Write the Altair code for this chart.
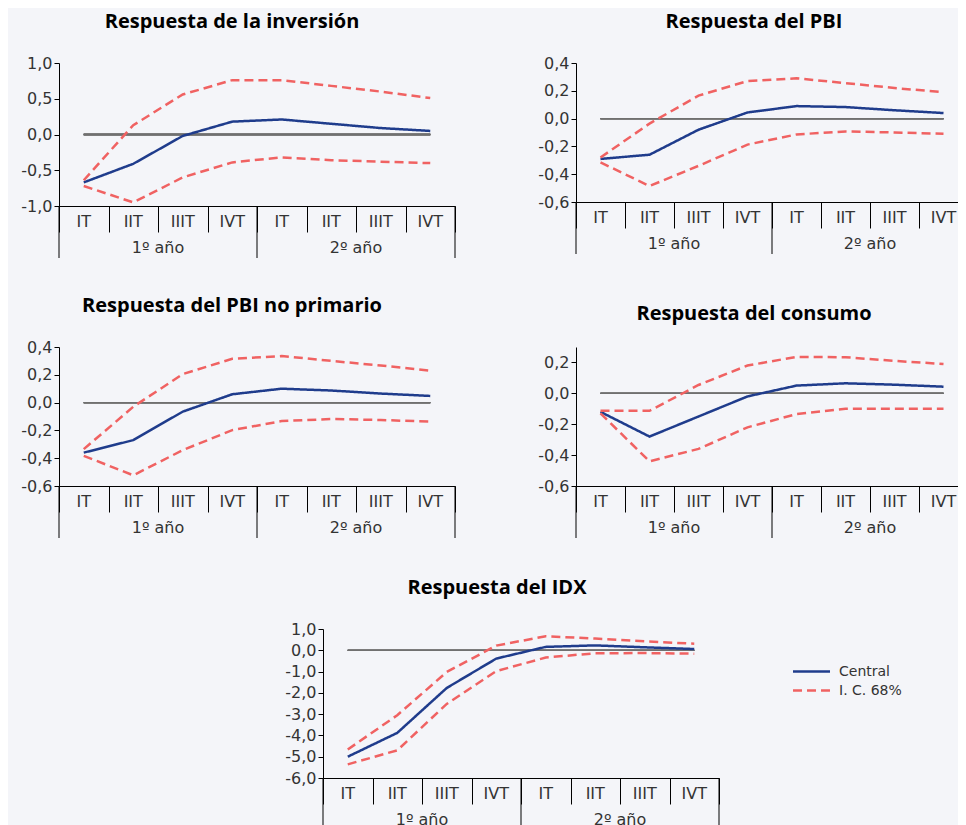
import altair as alt
import pandas as pd

# ---------------- data ----------------
trimestres = ["IT", "IIT", "IIIT", "IVT", "IT", "IIT", "IIIT", "IVT"]
anios = ["1º año", "2º año"]

inv_central = [-0.67, -0.41, -0.02, 0.18, 0.21, 0.15, 0.09, 0.05]
inv_sup = [-0.64, 0.13, 0.56, 0.76, 0.76, 0.68, 0.60, 0.51]
inv_inf = [-0.72, -0.95, -0.60, -0.39, -0.32, -0.36, -0.38, -0.40]

pbi_central = [-0.29, -0.26, -0.08, 0.044, 0.09, 0.083, 0.06, 0.04]
pbi_sup = [-0.28, -0.036, 0.165, 0.27, 0.29, 0.255, 0.22, 0.19]
pbi_inf = [-0.315, -0.485, -0.34, -0.187, -0.114, -0.092, -0.10, -0.109]

pnp_central = [-0.36, -0.27, -0.065, 0.06, 0.10, 0.087, 0.065, 0.048]
pnp_sup = [-0.335, -0.03, 0.205, 0.315, 0.335, 0.30, 0.267, 0.23]
pnp_inf = [-0.383, -0.523, -0.342, -0.198, -0.133, -0.118, -0.125, -0.137]

con_central = [-0.12, -0.28, -0.15, -0.02, 0.05, 0.065, 0.056, 0.043]
con_sup = [-0.113, -0.113, 0.054, 0.18, 0.236, 0.234, 0.21, 0.19]
con_inf = [-0.13, -0.44, -0.36, -0.22, -0.134, -0.10, -0.10, -0.10]

idx_central = [-5.0, -3.88, -1.77, -0.39, 0.16, 0.23, 0.14, 0.06]
idx_sup = [-4.66, -3.05, -1.02, 0.22, 0.66, 0.55, 0.42, 0.31]
idx_inf = [-5.36, -4.70, -2.52, -0.98, -0.34, -0.14, -0.13, -0.16]

# ---------------- style ----------------
TFONT = "Open Sans"
FONT = "DejaVu Sans"
BG = "#f4f5f9"
NAVY = "#1f3c8c"
RED = "#f06262"
TXT = "#333333"

n_q = len(trimestres)
q_df = pd.DataFrame({"idx": list(range(n_q)), "trim": trimestres})
y_df = pd.DataFrame({"idx": list(range(len(anios))), "anio": anios})

LABEL_EXPR = ("(datum.value < 0 ? '-' : '') + "
              "replace(format(abs(datum.value), '.1f'), '.', ',')")


def make_df(central, sup, inf):
    rows = []
    for i, (c, s, f) in enumerate(zip(central, sup, inf)):
        rows.append(dict(idx=i, valor=c, grupo="Central", serie="Central"))
        rows.append(dict(idx=i, valor=s, grupo="I. C. 68%", serie="Superior"))
        rows.append(dict(idx=i, valor=f, grupo="I. C. 68%", serie="Inferior"))
    return pd.DataFrame(rows)


def panel(title, central, sup, inf, ydom, yticks, w, h, xmax=8.0, tdx=-25, legend=False):
    df = make_df(central, sup, inf)
    bounds = [4 * i for i in range(len(anios) + 1) if 4 * i <= xmax]
    b_df = pd.DataFrame({"b": bounds})
    xs = alt.Scale(domain=[0, xmax], nice=False, zero=False)
    xax = alt.Axis(values=[v for v in range(n_q + 1) if v <= xmax], labels=False, tickSize=26,
                   tickColor="#000", domainColor="#000", grid=False, title=None,
                   tickWidth=1, domainWidth=1)
    yax = alt.Axis(values=yticks, grid=False, title=None, tickSize=5,
                   labelExpr=LABEL_EXPR,
                   labelFont=FONT, labelFontSize=16, labelColor=TXT, labelPadding=2,
                   tickColor="#000", domainColor="#000", labelOverlap=False)
    ys = alt.Scale(domain=ydom, nice=False, zero=False)

    def X(field):
        return alt.X(field, type="quantitative", scale=xs, axis=xax)

    if legend:
        leg = alt.Legend(title=None, orient="none", legendX=742, legendY=32,
                         symbolType="M-2,0L2,0", symbolSize=342, symbolStrokeWidth=2.5,
                         labelFont=FONT, labelFontSize=14, labelColor=TXT,
                         rowPadding=1, labelOffset=17)
    else:
        leg = None

    zero = alt.Chart(q_df).mark_rule(color="#707070", strokeWidth=1.3).encode(
        x=alt.XDatum(0.5, type="quantitative", scale=xs, axis=xax),
        x2=alt.X2Datum(n_q - 0.5),
        y=alt.YDatum(0, type="quantitative", scale=ys, axis=yax),
    )
    lines = alt.Chart(df).mark_line(strokeWidth=2.5).transform_calculate(
        xc="datum.idx + 0.5"
    ).encode(
        x=X("xc"),
        y=alt.Y("valor:Q", scale=ys, axis=yax),
        color=alt.Color("grupo:N", scale=alt.Scale(domain=["Central", "I. C. 68%"],
                                                    range=[NAVY, RED]), legend=leg),
        strokeDash=alt.StrokeDash("grupo:N", scale=alt.Scale(domain=["Central", "I. C. 68%"],
                                                             range=[[1, 0], [9, 5]]), legend=leg),
        detail="serie:N",
    )
    qtext = alt.Chart(q_df).mark_text(font=FONT, fontSize=16, color=TXT, baseline="middle").transform_calculate(
        xc="datum.idx + 0.5"
    ).encode(x=X("xc"), y=alt.value(h + 16), text="trim:N")
    ytext = alt.Chart(y_df).mark_text(font=FONT, fontSize=16, color=TXT, baseline="middle").transform_calculate(
        xc="datum.idx * 4 + 2"
    ).encode(x=X("xc"), y=alt.value(h + 42), text="anio:N")
    yrules = alt.Chart(b_df).mark_rule(color="#000", strokeWidth=1).encode(
        x=X("b"), y=alt.value(h), y2=alt.value(h + 52)
    )
    return alt.layer(zero, lines, qtext, ytext, yrules).properties(
        width=w, height=h,
        title=alt.TitleParams(title, font=TFONT, fontSize=20, fontWeight="bold",
                              color="#000", anchor="middle", frame="group",
                              dx=tdx, offset=23),
    )


RW = 382
RXMAX = RW / 49.0
p1 = panel("Respuesta de la inversión", inv_central, inv_sup, inv_inf,
           [-1.0, 1.0], [-1.0, -0.5, 0.0, 0.5, 1.0], 396, 143)
p2 = panel("Respuesta del PBI", pbi_central, pbi_sup, pbi_inf,
           [-0.6, 0.4], [-0.6, -0.4, -0.2, 0.0, 0.2, 0.4], RW, 139, xmax=RXMAX, tdx=-13)
p3 = panel("Respuesta del PBI no primario", pnp_central, pnp_sup, pnp_inf,
           [-0.6, 0.4], [-0.6, -0.4, -0.2, 0.0, 0.2, 0.4], 396, 139)
p4 = panel("Respuesta del consumo", con_central, con_sup, con_inf,
           [-0.6, 0.3], [-0.6, -0.4, -0.2, 0.0, 0.2], RW, 139, xmax=RXMAX, tdx=-13)
p5 = panel("Respuesta del IDX", idx_central, idx_sup, idx_inf,
           [-6.0, 1.0], [-6.0, -5.0, -4.0, -3.0, -2.0, -1.0, 0.0, 1.0], 396, 149,
           tdx=-24, legend=True)

spacer = alt.Chart(q_df).mark_point(opacity=0).encode(
    x=alt.X("idx:Q", axis=None), y=alt.Y("idx:Q", axis=None)
).properties(width=4, height=149)

row1 = alt.hconcat(p1, p2, spacing=121, bounds="flush")
row2 = alt.hconcat(p3, p4, spacing=121, bounds="flush")
row3 = alt.hconcat(spacer, p5, spacing=260, bounds="flush")
top = alt.vconcat(row1, row2, spacing=284, bounds="flush")

chart = alt.vconcat(top, row3, spacing=566, bounds="flush").resolve_scale(
    color="independent", strokeDash="independent"
).properties(
    background=BG,
    padding={"left": 12, "top": 4, "right": 0, "bottom": 0},
).configure_view(stroke=None)

chart.save("out.html", embed_options={"renderer": "svg", "actions": False})
